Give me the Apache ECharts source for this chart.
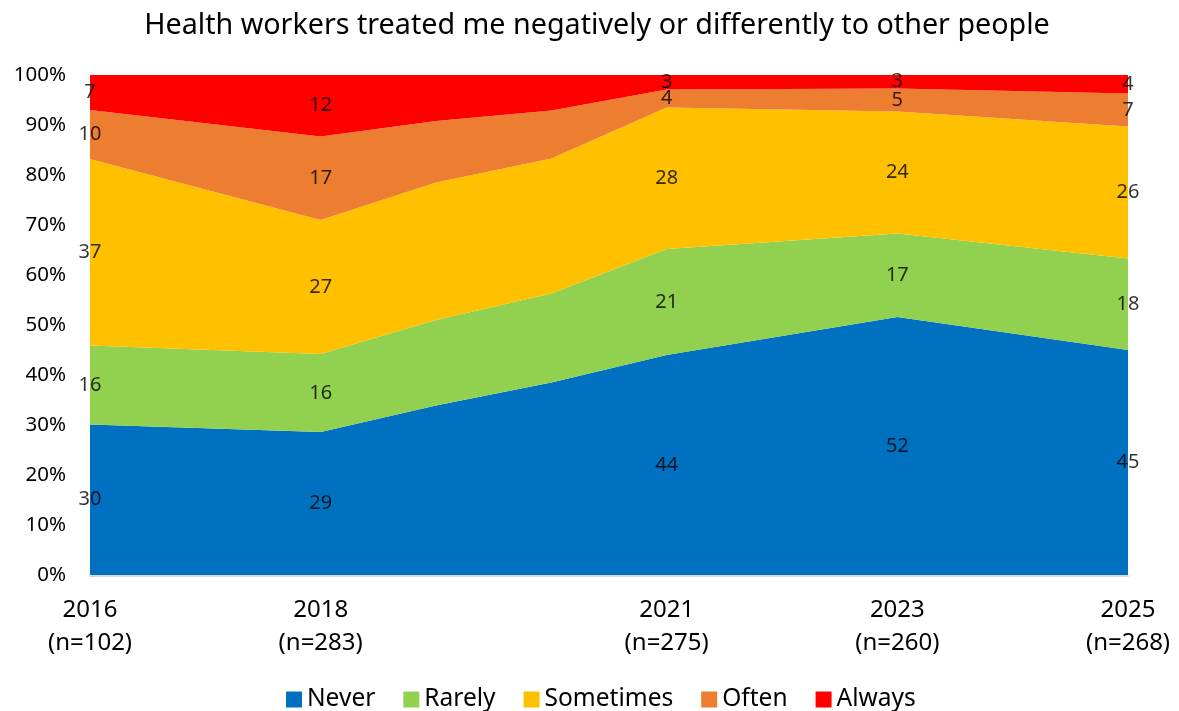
<!DOCTYPE html>
<html>
<head>
<meta charset="utf-8">
<title>Health workers treated me negatively or differently to other people</title>
<script src="https://cdn.jsdelivr.net/npm/echarts/dist/echarts.min.js"></script>
<style>
    html, body { margin: 0; padding: 0; background: #fff; }
    #chartArea { width: 1179px; height: 711px; }
</style>
</head>
<body>
<div id="chartArea"></div>
<script>
/* data (percent of respondents) */
var years     = [2016, 2018, 2019, 2020, 2021, 2023, 2025];
var never     = [30.1, 28.6, 33.9, 38.5, 44.0, 51.6, 45.0];
var rarely    = [15.8, 15.6, 17.1, 17.8, 21.2, 16.7, 18.3];
var sometimes = [37.3, 26.8, 27.5, 27.0, 28.3, 24.4, 26.4];
var often     = [9.8, 16.7, 12.3, 9.6, 3.6, 4.6, 6.6];
var always    = [7.0, 12.3, 9.2, 7.1, 2.9, 2.7, 3.7];

var seriesNames  = ['Never', 'Rarely', 'Sometimes', 'Often', 'Always'];
var seriesValues = [never, rarely, sometimes, often, always];
var seriesColors = ['#0070C0', '#92D050', '#FFC000', '#ED7D31', '#FF0000'];

/* survey waves that carry a tick label and data labels */
var labelYears = [2016, 2018, 2021, 2023, 2025];
var tickLabels = ['2016\n(n=102)', '2018\n(n=283)', '2021\n(n=275)', '2023\n(n=260)', '2025\n(n=268)'];

var fontName = 'Noto Sans';

/************************* series *******************************/
var series = [];
seriesNames.forEach(function (name, s) {
    series.push({
        name: name,
        type: 'line',
        stack: 'total',
        symbol: 'none',
        // value first so the stack works on y, year second goes on x
        encode: { x: 1, y: 0 },
        lineStyle: { width: 0 },
        areaStyle: { color: seriesColors[s], opacity: 1 },
        itemStyle: { color: seriesColors[s] },
        data: years.map(function (y, i) { return [seriesValues[s][i], y]; })
    });
});

// data labels sit in the middle of each band
var labelData = [];
years.forEach(function (y, i) {
    if (labelYears.indexOf(y) < 0) return;
    var base = 0;
    seriesValues.forEach(function (vals) {
        labelData.push([y, base + vals[i] / 2, vals[i]]);
        base += vals[i];
    });
});
series.push({
    name: 'labels',
    type: 'scatter',
    symbolSize: 0,
    silent: true,
    z: 5,
    label: {
        show: true,
        position: 'inside',
        color: '#000',
        fontFamily: fontName,
        fontSize: 20,
        formatter: function (p) { return Math.round(p.value[2]); }
    },
    data: labelData
});

var option = {
    backgroundColor: '#fff',
    animation: false,
    title: {
        text: 'Health workers treated me negatively or differently to other people',
        left: 592,
        top: 6,
        textAlign: 'center',
        textStyle: {
            color: '#000',
            fontFamily: fontName,
            fontWeight: 'normal',
            fontSize: 28.7
        }
    },
    legend: {
        data: seriesNames,
        left: 281,
        top: 682,
        icon: 'rect',
        itemWidth: 16,
        itemHeight: 16,
        itemGap: 28,
        textStyle: {
            color: '#000',
            fontFamily: fontName,
            fontSize: 24.5
        }
    },
    grid: {
        left: 90,
        right: 51,
        top: 75,
        bottom: 136
    },
    xAxis: {
        type: 'value',
        min: 2016,
        max: 2025,
        interval: 1,
        offset: 1,
        splitLine: { show: false },
        axisTick: { show: false },
        axisLine: { show: true, onZero: false, lineStyle: { color: '#d9d9d9', width: 2 } },
        axisLabel: {
            margin: 18,
            color: '#000',
            fontFamily: fontName,
            fontSize: 24,
            lineHeight: 33,
            formatter: function (v) {
                var k = labelYears.indexOf(v);
                return k < 0 ? '' : tickLabels[k];
            }
        }
    },
    yAxis: {
        type: 'value',
        min: 0,
        max: 100,
        interval: 10,
        splitLine: { show: false },
        axisTick: { show: false },
        axisLine: { show: false },
        axisLabel: {
            margin: 24,
            color: '#000',
            fontFamily: fontName,
            fontSize: 20.5,
            formatter: '{value}%'
        }
    },
    series: series
};

var chartArea = echarts.init(document.getElementById('chartArea'));
chartArea.setOption(option);
</script>
</body>
</html>
